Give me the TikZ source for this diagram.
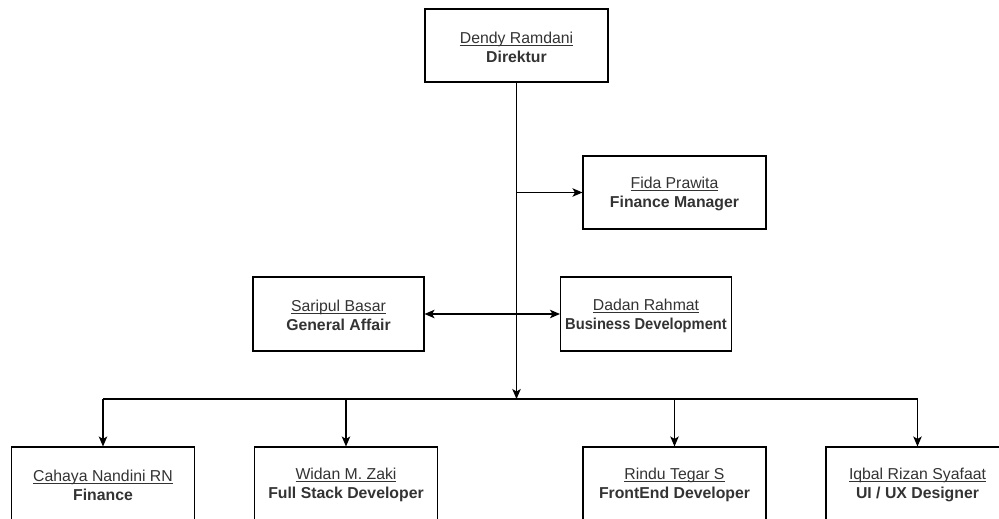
\documentclass[tikz,border=0pt]{standalone}
\usepackage{fontspec}
\usepackage{graphicx}
\setmainfont{Liberation Sans}
\usetikzlibrary{arrows.meta}
\definecolor{txtgray}{HTML}{333333}
\newcommand{\staffname}[1]{\underline{\raisebox{0pt}[15pt][0pt]{#1}}}
\begin{document}
\begin{tikzpicture}[x=1pt,y=-1pt,
    box/.style={draw,line width=1.1pt,minimum width=183pt,minimum height=73pt,
      inner sep=0pt,align=center,text=txtgray,font=\fontsize{15.8}{19}\selectfont},
    >={Stealth[length=10pt,width=8.5pt,inset=2.5pt]}]
    \clip (0,0) rectangle (999,519);
    % top
    \node[box] (dir) at (516.5,45.5) {\staffname{Dendy Ramdani}\\\textbf{Direktur}};
    \node[box] (fm) at (674.5,192.5) {\staffname{Fida Prawita}\\\textbf{Finance Manager}};
    \node[box,minimum width=171pt,minimum height=74pt] (ga) at (338.5,314) {\staffname{Saripul Basar}\\\textbf{General Affair}};
    \node[box,minimum width=171pt,minimum height=74pt] (bd) at (646,314) {\staffname{Dadan Rahmat}\\\scalebox{0.93}[1]{\textbf{Business Development}}};
    % staff
    \node[box] (fin) at (103,483.5) {\staffname{Cahaya Nandini RN}\\\textbf{Finance}};
    \node[box] (fsd) at (346,483.5) {\staffname{Widan M. Zaki}\\\textbf{Full Stack Developer}};
    \node[box] (fe) at (674.5,483.5) {\staffname{Rindu Tegar S}\\\textbf{FrontEnd Developer}};
    \node[box] (uiux) at (917.5,483.5) {\staffname{Iqbal Rizan Syafaat}\\\textbf{UI / UX Designer}};
    \coordinate (bus) at (516.5,399);
    \begin{scope}[line width=1.1pt]
        \draw[->] (dir.south) -- (bus);
        \draw[->] (dir.south |- fm.west) -- (fm.west);
        \draw[<->] (ga) -- (bd);
        \draw (fin.north |- bus) -- (uiux.north |- bus);
        \foreach \n in {fin,fsd,fe,uiux}
            \draw[->] (\n.north |- bus) -- (\n.north);
    \end{scope}
\end{tikzpicture}
\end{document}
